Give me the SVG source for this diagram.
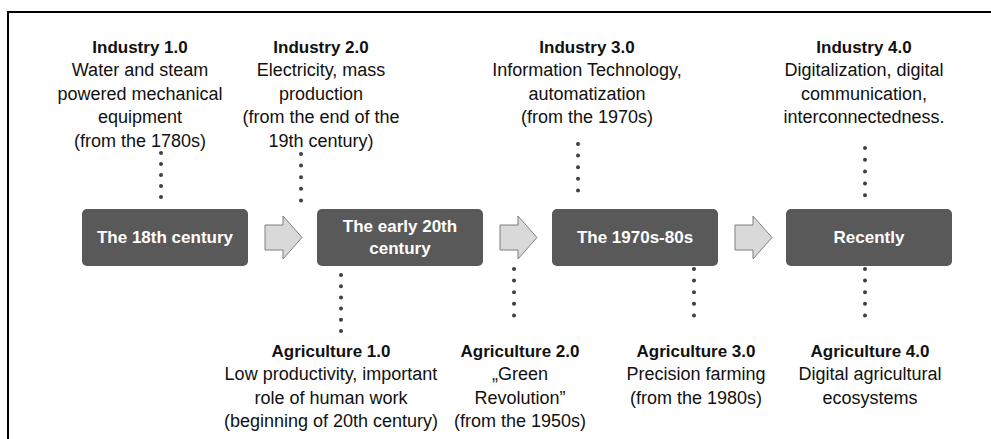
<svg xmlns="http://www.w3.org/2000/svg" width="991" height="439" viewBox="0 0 991 439">
  <style>
    .frame { stroke: #000; stroke-width: 2; fill: none; }
    .box { fill: #595959; }
    .boxtxt { font-family: "Liberation Sans", Arial, sans-serif; font-weight: bold; font-size: 17px; fill: #fff; text-anchor: middle; }
    .head { font-family: "Liberation Sans", Arial, sans-serif; font-weight: bold; font-size: 17px; fill: #111; text-anchor: middle; }
    .body { font-family: "Liberation Sans", Arial, sans-serif; font-size: 18px; fill: #111; text-anchor: middle; }
    .dots { stroke: #3f3f3f; stroke-width: 4; stroke-linecap: round; fill: none; }
    .arrow { fill: #d9d9d9; stroke: #7f7f7f; stroke-width: 1; }
  </style>
  <defs>
    <path id="block-arrow" class="arrow" d="M0,-12.5 H18 V-21.5 L37,0 L18,21.5 V12.5 H0 Z"/>
  </defs>

  <rect width="991" height="439" fill="#fff"/>
  <!-- frame: top and left edges -->
  <path class="frame" d="M8,439 V12 H991"/>

  <!-- era boxes -->
  <g id="era-18th">
    <rect class="box" x="82" y="209" width="166" height="57" rx="5"/>
    <text class="boxtxt" x="165" y="243">The 18th century</text>
  </g>
  <g id="era-early20th">
    <rect class="box" x="317" y="209" width="166" height="57" rx="5"/>
    <text class="boxtxt" x="400" y="232">The early 20th</text>
    <text class="boxtxt" x="400" y="254">century</text>
  </g>
  <g id="era-1970s">
    <rect class="box" x="552" y="209" width="166" height="57" rx="5"/>
    <text class="boxtxt" x="635" y="243">The 1970s-80s</text>
  </g>
  <g id="era-recently">
    <rect class="box" x="786" y="209" width="166" height="57" rx="5"/>
    <text class="boxtxt" x="869" y="243">Recently</text>
  </g>

  <!-- industry labels -->
  <g id="industry-1">
    <text class="head" x="140" y="53">Industry 1.0</text>
    <text class="body" x="140" y="76">Water and steam</text>
    <text class="body" x="140" y="100">powered mechanical</text>
    <text class="body" x="140" y="123">equipment</text>
    <text class="body" x="140" y="147">(from the 1780s)</text>
  </g>
  <g id="industry-2">
    <text class="head" x="321" y="53">Industry 2.0</text>
    <text class="body" x="321" y="76">Electricity, mass</text>
    <text class="body" x="321" y="100">production</text>
    <text class="body" x="321" y="123">(from the end of the</text>
    <text class="body" x="321" y="147">19th century)</text>
  </g>
  <g id="industry-3">
    <text class="head" x="587" y="53">Industry 3.0</text>
    <text class="body" x="587" y="76">Information Technology,</text>
    <text class="body" x="587" y="100">automatization</text>
    <text class="body" x="587" y="123">(from the 1970s)</text>
  </g>
  <g id="industry-4">
    <text class="head" x="864" y="53">Industry 4.0</text>
    <text class="body" x="864" y="76">Digitalization, digital</text>
    <text class="body" x="864" y="100">communication,</text>
    <text class="body" x="864" y="123">interconnectedness.</text>
  </g>

  <!-- agriculture labels -->
  <g id="agriculture-1">
    <text class="head" x="331" y="357">Agriculture 1.0</text>
    <text class="body" x="331" y="380">Low productivity, important</text>
    <text class="body" x="331" y="404">role of human work</text>
    <text class="body" x="331" y="427">(beginning of 20th century)</text>
  </g>
  <g id="agriculture-2">
    <text class="head" x="520" y="357">Agriculture 2.0</text>
    <text class="body" x="520" y="380">„Green</text>
    <text class="body" x="520" y="404">Revolution”</text>
    <text class="body" x="520" y="427">(from the 1950s)</text>
  </g>
  <g id="agriculture-3">
    <text class="head" x="696" y="357">Agriculture 3.0</text>
    <text class="body" x="696" y="380">Precision farming</text>
    <text class="body" x="696" y="404">(from the 1980s)</text>
  </g>
  <g id="agriculture-4">
    <text class="head" x="870" y="357">Agriculture 4.0</text>
    <text class="body" x="870" y="380">Digital agricultural</text>
    <text class="body" x="870" y="404">ecosystems</text>
  </g>

  <!-- connectors: dotted leaders and block arrows -->
  <g id="connectors">
    <path class="dots" stroke-dasharray="0 11" d="M161,153 V208"/>
    <path class="dots" stroke-dasharray="0 11.6" d="M301,154 V212"/>
    <path class="dots" stroke-dasharray="0 11.6" d="M578,144 V202"/>
    <path class="dots" stroke-dasharray="0 11.8" d="M865,148 V207"/>
    <path class="dots" stroke-dasharray="0 11.2" d="M341,275 V331"/>
    <path class="dots" stroke-dasharray="0 11.6" d="M514,269 V327"/>
    <path class="dots" stroke-dasharray="0 11.6" d="M694,269 V327"/>
    <path class="dots" stroke-dasharray="0 11.6" d="M865,269 V327"/>
    <use href="#block-arrow" x="265" y="237.5"/>
    <use href="#block-arrow" x="500" y="237.5"/>
    <use href="#block-arrow" x="735" y="237.5"/>
  </g>
</svg>
